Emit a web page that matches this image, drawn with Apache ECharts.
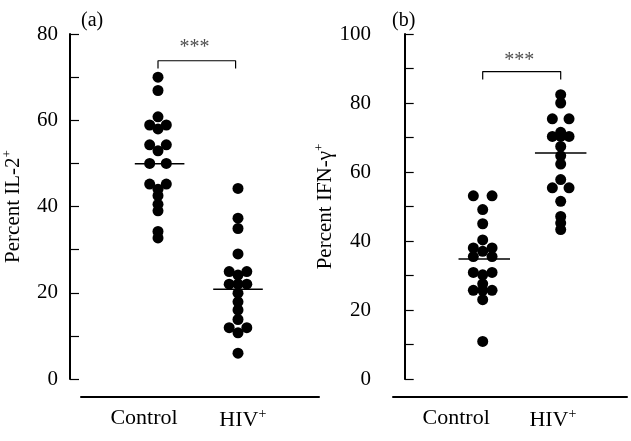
<!DOCTYPE html>
<html><head><meta charset="utf-8">
<script src="https://cdn.jsdelivr.net/npm/echarts@6/dist/echarts.min.js"></script>
<style>html,body{margin:0;padding:0;background:#fff}#c{width:631px;height:441px}</style>
</head><body><div id="c"></div>
<script>
// ---- data ----
const categories = ['Control', 'HIV+'];
const catPos = [1, 2];
// Panel (a): Percent IL-2+
const ctrlA = [70.0, 66.9, 60.8, 58.9, 58.9, 58.0, 54.3, 54.3, 52.9, 50.0, 50.0, 45.2, 45.2, 44.0, 42.5, 40.5, 39.0, 34.2, 32.7];
const ctrlASide = [0, 0, 0, -1, 1, 0, -1, 1, 0, -1, 1, -1, 1, 0, 0, 0, 0, 0, 0];
const hivA = [44.2, 37.3, 34.9, 29.0, 24.9, 24.9, 24.1, 22.0, 22.0, 22.0, 19.9, 17.9, 16.0, 13.8, 11.9, 11.9, 10.7, 6.0];
const hivASide = [0, 0, 0, 0, -1, 1, 0, -1, 0, 1, 0, 0, 0, 0, -1, 1, 0, 0];
const meansA = [49.9, 20.8];
const bracketA = [72.0, 73.8];
const starA = 76.8;
// Panel (b): Percent IFN-gamma+
const ctrlB = [53.1, 53.1, 49.1, 45.0, 40.3, 38.0, 38.0, 37.0, 35.5, 35.5, 30.9, 30.9, 30.2, 27.6, 25.7, 25.7, 25.7, 23.0, 10.9];
const ctrlBSide = [-1, 1, 0, 0, 0, -1, 1, 0, -1, 1, -1, 1, 0, 0, -1, 0, 1, 0, 0];
const hivB = [82.4, 80.0, 75.4, 75.4, 71.5, 70.3, 70.3, 70.3, 67.4, 64.7, 62.3, 57.8, 55.4, 55.4, 51.5, 47.1, 45.2, 43.3];
const hivBSide = [0, 0, -1, 1, 0, -1, 0, 1, 0, 0, 0, 0, -1, 1, 0, 0, 0, 0];
const meansB = [34.8, 65.5];
const bracketB = [86.8, 89.1];
const starB = 92.3;
const yTicksA = [0, 20, 40, 60, 80];
const yTicksB = [0, 20, 40, 60, 80, 100];

// ---- build ----
const FONT = 'Liberation Serif';
function pts(vals, sides, pos, spread) {
  return vals.map((v, i) => [pos + sides[i] * spread, v]);
}
function seg(pos, m, hw) { return [[pos - hw, m], [pos + hw, m]]; }

function catLabel(labelPos) {
  return {
    customValues: labelPos,
    fontFamily: FONT, fontSize: 22, color: '#000', margin: 10,
    formatter: function (v) {
      let best = 0;
      for (let i = 1; i < labelPos.length; i++) if (Math.abs(labelPos[i] - v) < Math.abs(labelPos[best] - v)) best = i;
      const t = categories[best];
      return t.endsWith('+') ? t.slice(0, -1) + '{sup|+}' : t;
    },
    rich: { sup: { fontSize: 14, fontFamily: FONT, color: '#000', padding: [0, 0, 12, 0] } }
  };
}
function yAxis(gi, max, ticks, name) {
  return {
    type: 'value', gridIndex: gi, min: 0, max: max, interval: 10, offset: gi === 0 ? 11 : 10,
    splitLine: { show: false },
    axisLine: { show: true, lineStyle: { color: '#000', width: 2 } },
    axisTick: { show: true, inside: true, length: 9, lineStyle: { color: '#000', width: 1.2 } },
    axisLabel: { fontFamily: FONT, fontSize: 21, color: '#000', margin: 12,
      formatter: v => ticks.indexOf(v) >= 0 ? String(v) : '' },
    name: name, nameLocation: 'middle', nameRotate: 90, nameGap: 45,
    nameTextStyle: { fontFamily: FONT, fontSize: 21, color: '#000', rich: { sup: { fontSize: 13, fontFamily: FONT, color: '#000', padding: [0, 0, 11, 0] } } }
  };
}
function xAxis(gi, min, max, labelPos) {
  return {
    type: 'value', gridIndex: gi, min: min, max: max, offset: 18,
    splitLine: { show: false },
    axisLine: { show: true, onZero: false, lineStyle: { color: '#000', width: 2 } },
    axisTick: { show: false },
    axisLabel: catLabel(labelPos)
  };
}
const dot = { type: 'scatter', symbol: 'circle', symbolSize: 11, itemStyle: { color: '#000', opacity: 1 }, silent: true, z: 3 };
const lineS = { type: 'line', symbol: 'none', silent: true, lineStyle: { color: '#000', width: 1.4 }, z: 2 };

function panel(gi, c, cs, h, hs, means, br, star, spread, hw, brRight) {
  return [
    Object.assign({}, dot, { xAxisIndex: gi, yAxisIndex: gi, data: pts(c, cs, catPos[0], spread[0]) }),
    Object.assign({}, dot, { xAxisIndex: gi, yAxisIndex: gi, data: pts(h, hs, catPos[1], spread[1]) }),
    Object.assign({}, lineS, { xAxisIndex: gi, yAxisIndex: gi, data: seg(catPos[0] + 0.02, means[0], hw) }),
    Object.assign({}, lineS, { xAxisIndex: gi, yAxisIndex: gi, data: seg(catPos[1], means[1], hw) }),
    Object.assign({}, lineS, { xAxisIndex: gi, yAxisIndex: gi, lineStyle: { color: '#000', width: 1.2 },
      data: [[catPos[0], br[0]], [catPos[0], br[1]], [brRight, br[1]], [brRight, br[0]]] }),
    { type: 'scatter', xAxisIndex: gi, yAxisIndex: gi, symbolSize: 0, silent: true,
      data: [[(catPos[0] + brRight) / 2 - 0.03, star]],
      label: { show: true, position: 'inside', formatter: '***', fontFamily: FONT, fontSize: 20, color: '#222', letterSpacing: 1 } }
  ];
}

const option = {
  backgroundColor: '#fff',
  animation: false,
  title: [
    { text: '(a)', left: 76, top: 6, textStyle: { fontFamily: FONT, fontSize: 20, fontWeight: 'normal', color: '#000' } },
    { text: '(b)', left: 387, top: 6, textStyle: { fontFamily: FONT, fontSize: 20, fontWeight: 'normal', color: '#000' } }
  ],
  grid: [
    { left: 81, width: 238, top: 34, bottom: 62 },
    { left: 393, width: 234, top: 34, bottom: 62 }
  ],
  xAxis: [xAxis(0, 0.0375, 3.0125, [0.825, 2.06]), xAxis(1, -0.15, 2.85, [0.66, 1.90])],
  yAxis: [yAxis(0, 80, yTicksA, 'Percent IL-2{sup|+}'), yAxis(1, 100, yTicksB, 'Percent IFN-γ{sup|+}')],
  series: [].concat(
    panel(0, ctrlA, ctrlASide, hivA, hivASide, meansA, bracketA, starA, [0.104, 0.11], 0.31, 1.97),
    panel(1, ctrlB, ctrlBSide, hivB, hivBSide, meansB, bracketB, starB, [0.12, 0.107], 0.33, 2.0)
  )
};
const chart = echarts.init(document.getElementById('c'), null, { renderer: 'canvas' });
chart.setOption(option);
</script></body></html>
